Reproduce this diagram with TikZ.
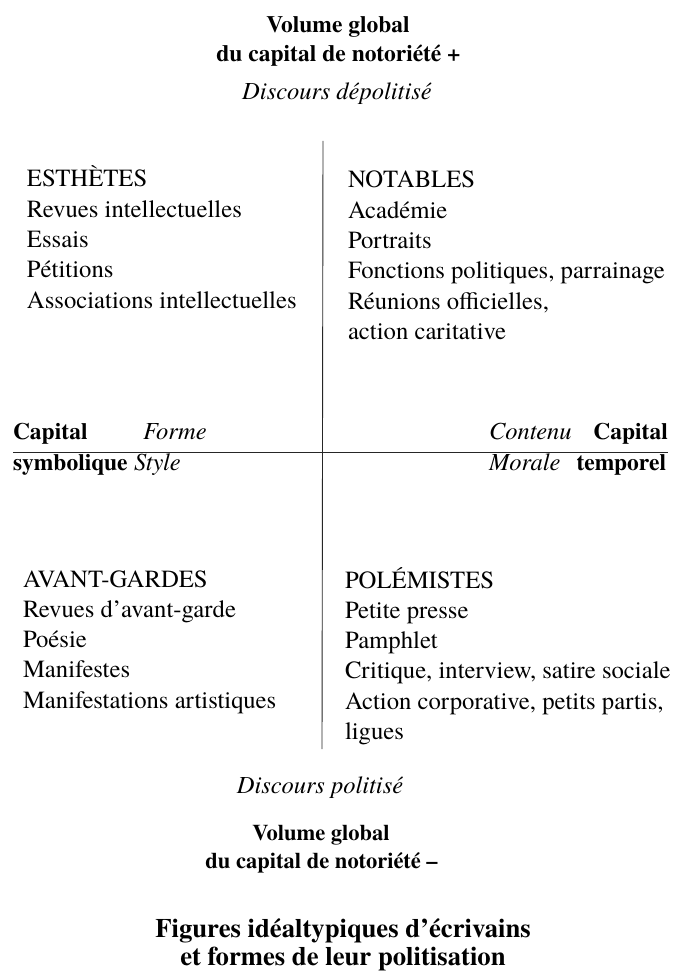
\documentclass[tikz,border=0pt]{standalone}
\usepackage{fontspec}
\setmainfont{texgyretermes}[Extension=.otf, UprightFont=*-regular, BoldFont=*-bold, ItalicFont=*-italic, BoldItalicFont=*-bolditalic]
\begin{document}
\begin{tikzpicture}[x=1pt,y=-1pt,
  every node/.style={inner sep=0pt,outer sep=0pt},
  body/.style={anchor=base west,font=\fontsize{24.7}{30}\selectfont},
  lab/.style={font=\fontsize{23.5}{28}\selectfont\bfseries},
  labs/.style={font=\fontsize{22.5}{27}\selectfont\bfseries},
  ital/.style={font=\fontsize{24.5}{30}\selectfont\itshape},
  ttl/.style={anchor=base,font=\fontsize{26.7}{32}\selectfont\bfseries},
  axis/.style={line width=0.9pt,black!85}]
\useasboundingbox (0,0) rectangle (675,976);
% top
\node[lab,anchor=base] (vg1) at (338,33) {Volume global};
\node[lab,anchor=base] (cn1) at (338.5,62) {du capital de notoriété +};
\node[ital,anchor=base] (dd) at (337,100) {Discours dépolitisé};
% axes
\coordinate (vtop) at (323,141);
\coordinate (vbot) at (322,749);
\coordinate (hl) at (13,452);
\coordinate (hr) at (668,452);
\draw[axis] (vtop) -- (vbot);
\draw[axis] (hl) -- (hr);
% quadrants
\foreach \t [count=\i from 0] in {ESTHÈTES,Revues intellectuelles,Essais,Pétitions,Associations intellectuelles}
  \node[body,name=es\i] at (27,{187+30.3*\i}) {\t};
\foreach \t [count=\i from 0] in {NOTABLES,Académie,Portraits,{Fonctions politiques, parrainage},{Réunions officielles,},action caritative}
  \node[body,name=no\i] at (348,{188+30.3*\i}) {\t};
\foreach \t [count=\i from 0] in {AVANT-GARDES,Revues d’avant-garde,Poésie,Manifestes,Manifestations artistiques}
  \node[body,name=av\i] at (23,{587+30.3*\i}) {\t};
\foreach \t [count=\i from 0] in {POLÉMISTES,Petite presse,Pamphlet,{Critique, interview, satire sociale},{Action corporative, petits partis,},ligues}
  \node[body,name=po\i] at (345,{588+30.3*\i}) {\t};
% axis labels
\node[lab,anchor=base west] (capl) at (13,439) {Capital};
\node[ital,anchor=base west] (forme) at (143,439) {Forme};
\node[lab,anchor=base west] (symb) at (13,470) {symbolique};
\node[ital,anchor=base west] (style) at (134,470) {Style};
\node[ital,anchor=base west] (cont) at (489,439) {Contenu};
\node[lab,anchor=base east] (capr) at (668,439) {Capital};
\node[ital,anchor=base west] (mor) at (489,470) {Morale};
\node[lab,anchor=base east] (temp) at (666,470) {temporel};
% bottom
\node[ital,anchor=base] (dp) at (320,793) {Discours politisé};
\node[labs,anchor=base] (vg2) at (321,840) {Volume global};
\node[labs,anchor=base] (cn2) at (321.5,868) {du capital de notoriété –};
\node[ttl] (t1) at (343,937) {Figures idéaltypiques d’écrivains};
\node[ttl] (t2) at (343,965) {et formes de leur politisation};
\end{tikzpicture}
\end{document}
